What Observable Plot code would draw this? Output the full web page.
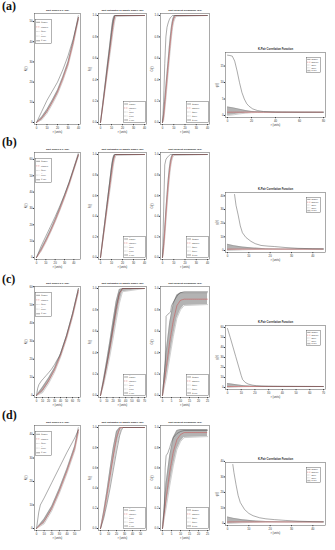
<!DOCTYPE html>
<html><head><meta charset="utf-8">
<script src="https://cdn.jsdelivr.net/npm/d3@7"></script>
<script src="https://cdn.jsdelivr.net/npm/@observablehq/plot@0.6"></script>
<style>
html,body{margin:0;padding:0;background:#fff}
#root{position:relative;width:335px;height:550px;overflow:hidden;font-family:"Liberation Sans",Arial,sans-serif}
.lab{position:absolute;left:2px;font-family:"Liberation Serif","Times New Roman",serif;font-weight:bold;font-size:12px;line-height:12px;color:#111}
.pan{position:absolute}
</style></head><body><div id="root"></div>
<script>
// ---------------- DATA ----------------
const titles = ["Sqrt Ripley's K (Ex)", "Sqrt Estimator of Empty Space (Ex)", "Sqrt Nearest Neighbour (Ex)", "K-Pair Correlation Function"];
const yLabels = ["K(r)", "F(r)", "G(r)", "g(r)"];
const xLabel = "r (units)";
const rowLabels = ["(a)", "(b)", "(c)", "(d)"];

// Row (a)
const aK_r = [0,5,10,15,20,25,30,35,40];
const aK_obs = [0,5.5,11,15.5,20,26,33,41.5,52];
const aK_theo = [0,2,5.5,10,15,21.5,29,39.5,52];
const aK_lo = [0,1.3,4.5,9,14,20.5,28,38.5,51];
const aK_hi = [0,2.7,6.5,11,16,22.5,30,40.5,53];
const aF_r = [0,2,4,6,8,10,11,12,13,14,40];
const aF_obs = [0,0.16,0.33,0.5,0.67,0.84,0.92,0.97,1,1,1];
const aF_theo = [0,0.15,0.31,0.47,0.63,0.79,0.87,0.94,0.99,1,1];
const aF_lo = [0,0.14,0.29,0.44,0.59,0.74,0.82,0.89,0.95,0.99,1];
const aF_hi = [0,0.17,0.34,0.52,0.69,0.87,0.95,0.99,1,1,1];
const aG_r = [0,1,2,3,4,5,6,7,8,9,10,11,12,40];
const aG_obs = [0,0.2,0.55,0.8,0.89,0.93,0.96,0.98,0.99,1,1,1,1,1];
const aG_theo = [0,0.05,0.16,0.28,0.4,0.52,0.64,0.75,0.85,0.93,0.97,0.99,1,1];
const aG_lo = [0,0.02,0.11,0.22,0.34,0.46,0.58,0.69,0.8,0.89,0.94,0.97,0.99,1];
const aG_hi = [0,0.08,0.21,0.34,0.46,0.58,0.7,0.81,0.9,0.96,0.99,1,1,1];
const aP_r = [0,2,4,6,8,10,12,14,16,18,21,25,30,40,60,80];
const aP_obs = [18.3,18.2,18,16.5,13.5,10,7,5,3.6,2.8,2,1.5,1.2,1.05,1,1];
const aPb_r = [0,5,10,15,20,25,30,80];
const aP_theo = [1,1,1,1,1,1,1,1];
const aP_lo = [0,0.2,0.5,0.7,0.85,0.92,0.96,0.98];
const aP_hi = [2.6,2.3,1.9,1.5,1.25,1.1,1.05,1.02];

// Row (b)
const bK_r = [0,5,10,15,20,25,30,35,40,45];
const bK_obs = [0,7,13,19,25,31.5,38.5,46,54.5,63];
const bK_theo = [0,4.5,10,16,22.5,29.5,37,45,54,63];
const bK_lo = [0,3.8,9.2,15.2,21.7,28.7,36.2,44.2,53.2,62.2];
const bK_hi = [0,5.2,10.8,16.8,23.3,30.3,37.8,45.8,54.8,63.8];
const bF_r = [0,2,4,6,8,10,11,12,13,14,40];
const bF_obs = [0,0.17,0.35,0.52,0.7,0.87,0.94,0.98,1,1,1];
const bF_theo = [0,0.16,0.32,0.49,0.65,0.81,0.89,0.95,0.99,1,1];
const bF_lo = [0,0.15,0.3,0.46,0.61,0.76,0.84,0.91,0.96,0.99,1];
const bF_hi = [0,0.18,0.35,0.53,0.7,0.88,0.95,0.99,1,1,1];
const bG_r = [0,1,2,3,4,5,6,7,8,9,10,40];
const bG_obs = [0,0.45,0.9,0.95,0.97,0.98,0.99,1,1,1,1,1];
const bG_theo = [0,0.1,0.24,0.4,0.55,0.69,0.81,0.9,0.96,0.99,1,1];
const bG_lo = [0,0.07,0.19,0.34,0.49,0.63,0.76,0.86,0.93,0.97,0.99,1];
const bG_hi = [0,0.13,0.29,0.46,0.61,0.75,0.86,0.94,0.98,1,1,1];
const bP_r = [3.3,4,5,6,7,8.6,11,13,15.7,19,22,27,33,40,45];
const bP_obs = [41,33,26,18,13,9.6,6.7,5,3.7,3.2,2.9,2.2,1.6,1.3,1.2];
const bPb_r = [0,3,7,12,18,25,45];
const bP_theo = [1,1,1,1,1,1,1];
const bP_lo = [0,0.2,0.5,0.7,0.9,0.95,0.98];
const bP_hi = [4.5,3.5,2.5,1.8,1.3,1.1,1.02];

// Row (c)
const cK_r = [0,2,4,8,12,16,20,25,30,35,38,40,50,60,70];
const cK_obs = [0,4,6,8,9.5,11,12.5,14.5,17,20,21.5,23,33,45,59];
const cKb_r = [0,10,20,30,40,50,60,70];
const cK_theo = [0,3,8,14,22,32,44,58];
const cK_lo = [0,1.5,6.5,12.8,21,31,43,57];
const cK_hi = [0,4.5,9.5,15.2,23,33,45,59];
const cF_r = [0,5,10,15,20,25,30,35,70];
const cF_obs = [0,0.14,0.3,0.47,0.65,0.83,0.96,1,1];
const cF_theo = [0,0.13,0.28,0.44,0.62,0.8,0.95,1,1];
const cF_lo = [0,0.1,0.23,0.37,0.53,0.7,0.86,0.97,1];
const cF_hi = [0,0.16,0.33,0.51,0.7,0.88,0.99,1,1];
const cG_r = [0,1.5,2,3,4.5,5,6,7,8.5,10,12,25];
const cG_obs = [0,0.3,0.74,0.76,0.78,0.84,0.87,0.9,0.94,0.96,0.97,0.97];
const cGb_r = [0,2,4,6,8,10,12,25];
const cG_theo = [0,0.25,0.5,0.7,0.84,0.89,0.9,0.9];
const cG_lo = [0,0.15,0.35,0.55,0.72,0.8,0.84,0.85];
const cG_hi = [0,0.4,0.68,0.86,0.94,0.96,0.96,0.96];
const cP_r = [0,2,4,6,8,10,11,13,15,18,21,25,30,40,70];
const cP_obs = [59,50,40.5,31,21.5,12,8,5,3.5,2.4,1.8,1.4,1.2,1.05,1];
const cPb_r = [0,4,8,12,16,20,70];
const cP_theo = [1,1,1,1,1,1,1];
const cP_lo = [0,0.3,0.6,0.8,0.9,0.95,0.98];
const cP_hi = [4,3.2,2.4,1.8,1.4,1.15,1.02];

// Row (d)
const dK_r = [0,3,5,10,20,30,40,50,55];
const dK_obs = [0,7,10,13,19.5,26,32.5,38.5,42];
const dKb_r = [0,10,20,30,40,50,55];
const dK_theo = [0,3,8.5,16,24.5,34,42];
const dK_lo = [0,2,7.5,15,23.5,33,41];
const dK_hi = [0,4,9.5,17,25.5,35,43];
const dF_r = [0,4,8,12,16,20,24,26,28,55];
const dF_obs = [0,0.1,0.24,0.4,0.58,0.76,0.92,0.97,1,1];
const dF_theo = [0,0.14,0.32,0.52,0.72,0.9,0.99,1,1,1];
const dF_lo = [0,0.12,0.28,0.46,0.64,0.82,0.95,0.99,1,1];
const dF_hi = [0,0.17,0.37,0.59,0.8,0.96,1,1,1,1];
const dG_r = [0,1,1.5,2,3,4,5,6,8,10,12,25];
const dG_obs = [0,0.2,0.6,0.72,0.75,0.8,0.86,0.9,0.94,0.96,0.97,0.97];
const dGb_r = [0,2,4,6,8,10,12,25];
const dG_theo = [0,0.3,0.56,0.76,0.88,0.93,0.95,0.95];
const dG_lo = [0,0.2,0.42,0.62,0.78,0.86,0.9,0.91];
const dG_hi = [0,0.45,0.72,0.9,0.97,0.98,0.98,0.98];
const dP_r = [2.5,3,4,5,6,8,10,12,15,18,22,27,33,40,45];
const dP_obs = [38,33,25,18,13.5,9,6.5,5,3.7,3,2.5,2,1.5,1.2,1.1];
const dPb_r = [0,3,7,12,18,25,45];
const dP_theo = [1,1,1,1,1,1,1];
const dP_lo = [0,0.2,0.5,0.7,0.9,0.95,0.98];
const dP_hi = [4.2,3.3,2.4,1.7,1.3,1.1,1.02];

// axis ticks / domains
const ticks10 = (n) => d3.range(0, n + 1, 10);
const fTicks = [0,0.2,0.4,0.6,0.8,1.0];

// ---------------- LAYOUT ----------------
const rowsGeom = [
  {labY: 0,   top: 13,  bot: 124, pTop: 52,  pBot: 117},
  {labY: 136, top: 152, bot: 259, pTop: 192, pBot: 252},
  {labY: 273, top: 286, bot: 397, pTop: 325, pBot: 389},
  {labY: 409, top: 425, bot: 530, pTop: 462, pBot: 525}
];
const cols = [{x: 34, w: 46}, {x: 98, w: 48}, {x: 160, w: 49}, {x: 225, w: 100}];
const legendPos = ["tl", "br", "br", "tr"];

const zip = (r, v) => r.map((x, i) => ({r: x, v: v[i]}));
const band = (r, lo, hi, th) => r.map((x, i) => ({r: x, lo: lo[i], hi: hi[i], th: th[i]}));

const panels = [
  [
    {obs: zip(aK_r, aK_obs), band: band(aK_r, aK_lo, aK_hi, aK_theo), xd: [0,40], yd: [0,53], xt: ticks10(40), yt: ticks10(50)},
    {obs: zip(aF_r, aF_obs), band: band(aF_r, aF_lo, aF_hi, aF_theo), xd: [0,40], yd: [0,1], xt: ticks10(40), yt: fTicks},
    {obs: zip(aG_r, aG_obs), band: band(aG_r, aG_lo, aG_hi, aG_theo), xd: [0,40], yd: [0,1], xt: ticks10(40), yt: fTicks},
    {obs: zip(aP_r, aP_obs), band: band(aPb_r, aP_lo, aP_hi, aP_theo), xd: [0,80], yd: [0,18.5], xt: [0,20,40,60,80], yt: [0,5,10,15]}
  ],
  [
    {obs: zip(bK_r, bK_obs), band: band(bK_r, bK_lo, bK_hi, bK_theo), xd: [0,45], yd: [0,63], xt: ticks10(40), yt: ticks10(60)},
    {obs: zip(bF_r, bF_obs), band: band(bF_r, bF_lo, bF_hi, bF_theo), xd: [0,40], yd: [0,1], xt: ticks10(40), yt: fTicks},
    {obs: zip(bG_r, bG_obs), band: band(bG_r, bG_lo, bG_hi, bG_theo), xd: [0,40], yd: [0,1], xt: ticks10(40), yt: fTicks},
    {obs: zip(bP_r, bP_obs), band: band(bPb_r, bP_lo, bP_hi, bP_theo), xd: [0,45], yd: [0,41], xt: ticks10(40), yt: ticks10(40)}
  ],
  [
    {obs: zip(cK_r, cK_obs), band: band(cKb_r, cK_lo, cK_hi, cK_theo), xd: [0,70], yd: [0,59], xt: ticks10(70), yt: ticks10(60)},
    {obs: zip(cF_r, cF_obs), band: band(cF_r, cF_lo, cF_hi, cF_theo), xd: [0,70], yd: [0,1], xt: ticks10(70), yt: fTicks},
    {obs: zip(cG_r, cG_obs), band: band(cGb_r, cG_lo, cG_hi, cG_theo), xd: [0,25], yd: [0,1], xt: [0,5,10,15,20,25], yt: fTicks},
    {obs: zip(cP_r, cP_obs), band: band(cPb_r, cP_lo, cP_hi, cP_theo), xd: [0,70], yd: [0,60], xt: ticks10(70), yt: ticks10(60)}
  ],
  [
    {obs: zip(dK_r, dK_obs), band: band(dKb_r, dK_lo, dK_hi, dK_theo), xd: [0,55], yd: [0,43], xt: ticks10(50), yt: ticks10(40)},
    {obs: zip(dF_r, dF_obs), band: band(dF_r, dF_lo, dF_hi, dF_theo), xd: [0,55], yd: [0,1], xt: ticks10(50), yt: fTicks},
    {obs: zip(dG_r, dG_obs), band: band(dGb_r, dG_lo, dG_hi, dG_theo), xd: [0,25], yd: [0,1], xt: [0,5,10,15,20,25], yt: fTicks},
    {obs: zip(dP_r, dP_obs), band: band(dPb_r, dP_lo, dP_hi, dP_theo), xd: [0,45], yd: [0,38], xt: ticks10(40), yt: ticks10(40)}
  ]
];

const legendNames = [
  ["K\u0302obs(r)", "Ktheo(r)", "K\u0302hi(r)", "K\u0302lo(r)", "K\u0302 env."],
  ["F\u0302obs(r)", "Ftheo(r)", "F\u0302hi(r)", "F\u0302lo(r)", "F\u0302 env."],
  ["G\u0302obs(r)", "Gtheo(r)", "G\u0302hi(r)", "G\u0302lo(r)", "G\u0302 env."],
  ["g\u0302obs(r)", "gtheo(r)", "g\u0302hi(r)", "g\u0302lo(r)", "g\u0302 env."]
];

// ---------------- DRAW ----------------
const root = document.getElementById("root");
const ML = 13, MR = 1, MT = 8, MB = 11;

function addLegend(x, y, w, h, names) {
  const styles = [
    {stroke: "#333", dash: null, sw: 0.45},
    {stroke: "#d23c3c", dash: "1.2,0.8", sw: 0.45},
    {stroke: "#888", dash: "0.6,0.6", sw: 0.45},
    {stroke: "#888", dash: "0.6,0.6", sw: 0.45},
    {stroke: "#bbb", dash: null, sw: 1.4}
  ];
  const svg = d3.select(root).append("svg")
    .style("position", "absolute").style("left", x + "px").style("top", y + "px")
    .attr("width", w).attr("height", h);
  svg.append("rect").attr("x", 0.25).attr("y", 0.25).attr("width", w - 0.5).attr("height", h - 0.5)
    .attr("fill", "#fff").attr("stroke", "#555").attr("stroke-width", 0.45);
  const step = (h - 2) / names.length;
  names.forEach((n, i) => {
    const cy = 1 + step * (i + 0.5);
    const s = styles[i];
    svg.append("line").attr("x1", 1.2).attr("x2", Math.min(5, w * 0.3)).attr("y1", cy).attr("y2", cy)
      .attr("stroke", s.stroke).attr("stroke-width", s.sw).attr("stroke-dasharray", s.dash);
    svg.append("text").attr("x", Math.min(5, w * 0.3) + 1).attr("y", cy + 0.7)
      .attr("font-size", 2).attr("fill", "#333").attr("font-family", "Liberation Sans, Arial, sans-serif").text(n);
  });
}

rowsGeom.forEach((g, ri) => {
  const lab = document.createElement("div");
  lab.className = "lab"; lab.style.top = g.labY + "px"; lab.textContent = rowLabels[ri];
  root.appendChild(lab);
  cols.forEach((c, ci) => {
    const p = panels[ri][ci];
    const top = ci === 3 ? g.pTop : g.top;
    const bot = ci === 3 ? g.pBot : g.bot;
    const h = bot - top;
    const chart = Plot.plot({
      width: c.w + ML + MR, height: h + MT + MB,
      marginLeft: ML, marginRight: MR, marginTop: MT, marginBottom: MB,
      style: {fontSize: "2.8px", fontFamily: "Liberation Sans, Arial, sans-serif", background: "transparent", overflow: "visible", color: "#333"},
      x: {domain: p.xd, ticks: p.xt, tickSize: 1.2, tickPadding: 0.8, insetLeft: 2, insetRight: 2,
          label: xLabel, labelAnchor: "center", labelOffset: 8, labelArrow: "none"},
      y: {domain: p.yd, ticks: p.yt, tickSize: 1.2, tickPadding: 0.8, insetTop: 2, insetBottom: 2,
          tickFormat: ci === 1 || ci === 2 ? ".1f" : "d",
          label: yLabels[ci], labelAnchor: "center", labelOffset: 10, labelArrow: "none"},
      marks: [
        Plot.areaY(p.band, {x: "r", y1: "lo", y2: "hi", fill: "#9a9a9a", fillOpacity: 0.75, curve: "linear"}),
        Plot.line(p.band, {x: "r", y: "lo", stroke: "#777", strokeWidth: 0.35}),
        Plot.line(p.band, {x: "r", y: "hi", stroke: "#777", strokeWidth: 0.35}),
        Plot.line(p.band, {x: "r", y: "th", stroke: "#d23c3c", strokeWidth: 0.45, strokeDasharray: "1.2,0.8"}),
        Plot.line(p.obs, {x: "r", y: "v", stroke: "#444", strokeWidth: 0.45}),
        Plot.frame({stroke: "#555", strokeWidth: 0.5}),
        Plot.text([titles[ci]], {frameAnchor: "top", dy: -4, fontSize: ci === 3 ? 2.7 : 2.5, fontWeight: "bold", fill: "#222"})
      ]
    });
    const div = document.createElement("div");
    div.className = "pan";
    div.style.left = (c.x - ML) + "px";
    div.style.top = (top - MT) + "px";
    div.appendChild(chart);
    root.appendChild(div);
    // legend
    const pos = legendPos[ci];
    if (pos === "tl") addLegend(c.x + 1, top + 6, 17, 25, legendNames[ci]);
    else if (pos === "br") addLegend(c.x + c.w - 23, bot - 23, 23, 22, legendNames[ci]);
    else addLegend(c.x + c.w - 19, top + 5, 15, 16, legendNames[ci]);
  });
});
</script></body></html>
